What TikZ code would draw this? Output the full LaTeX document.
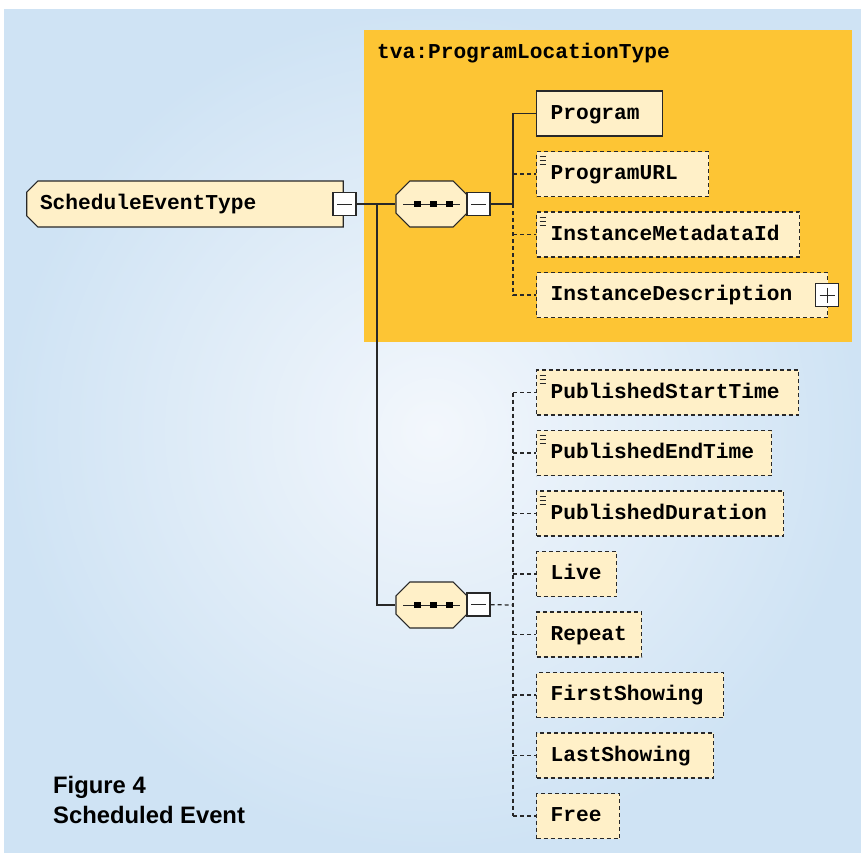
\documentclass[tikz,border=0pt]{standalone}
\usepackage{fontspec}
\setsansfont{Liberation Sans}
\setmonofont{Liberation Mono}
\usetikzlibrary{shapes.misc}

\definecolor{bgblue}{RGB}{207,227,244}
\definecolor{bglight}{RGB}{243,247,252}
\definecolor{groupfill}{RGB}{253,197,52}
\definecolor{elemfill}{RGB}{255,240,200}
\definecolor{linegray}{RGB}{40,40,40}

\tikzset{
	 elemfont/.style = {font = \ttfamily\bfseries\fontsize{21.2}{25}\selectfont,
	 text height = 14pt, text depth = 2.4pt},
	 elem/.style = {draw = linegray, fill = elemfill, line width = 1.2pt, anchor = west,
	 minimum height = 45pt, inner xsep = 14pt, inner ysep = 0pt,
	 text width = #1, align = left, elemfont},
	 optional/.style = {dash pattern = on 4pt off 3pt},
	 doc/.style = {path picture = {
	 \foreach \yy in {5, 9, 13}
	 \draw[line width = 0.8pt, solid] ([shift = {(3pt, -\yy pt)}] path picture bounding box.north west) -- ++(6pt, 0pt);
	 }},
	 toggle/.style = {draw = linegray, fill = white, line width = 1.2pt, solid,
	 minimum size = 23pt, inner sep = 0pt},
	 minus/.style = {toggle, path picture = {
	 \draw[line width = 1pt] ([xshift = 4pt] path picture bounding box.west) -- ([xshift = -4pt] path picture bounding box.east);
	 }},
	 plus/.style = {toggle, path picture = {
	 \draw[line width = 1pt] ([xshift = 4pt] path picture bounding box.west) -- ([xshift = -4pt] path picture bounding box.east);
	 \draw[line width = 1pt] ([yshift = -4pt] path picture bounding box.north) -- ([yshift = 4pt] path picture bounding box.south);
	 }},
	 compositor/.style = {chamfered rectangle, chamfered rectangle xsep = 11pt,
	 draw = linegray, fill = elemfill, line width = 1.2pt,
	 minimum width = 71pt, minimum height = 46pt, inner xsep = 14pt, inner ysep = 12pt,
	 path picture = {
	 \draw[line width = 1pt] ([xshift = 7pt] path picture bounding box.west) -- ([xshift = -7pt] path picture bounding box.east);
	 \foreach \dx in {-14, 2, 18}
	 \fill[black] ([xshift = \dx pt] path picture bounding box.center) +(-3.2pt, -3.2pt) rectangle +(3.2pt, 3.2pt);
	 }},
	 root/.style = {chamfered rectangle, chamfered rectangle corners = {north west, south west},
	 chamfered rectangle xsep = 10pt, draw = linegray, fill = elemfill, line width = 1.2pt,
	 minimum height = 46pt, inner xsep = 5pt, inner ysep = 0pt,
	 text width = 290pt, align = left, elemfont},
	 conn/.style = {draw = linegray, line width = 1.2pt},
	 caption/.style = {anchor = base west, inner sep = 0pt,
	 font = \sffamily\bfseries\fontsize{23.8}{28}\selectfont}
}

\begin{document}
\begin{tikzpicture}[x = 1pt, y = -1pt]
	 \useasboundingbox (0, 0) rectangle (861, 852);
	 \fill[white] (0, 0) rectangle (861, 852);
	 \shade[inner color = bglight, outer color = bgblue] (4, 9) rectangle (861, 852);
	 
	 % ProgramLocationType group
	 \fill[groupfill] (364, 30) rectangle (852, 342);
	 \node[anchor = west, inner sep = 0pt, elemfont] (grouplabel) at (377, 53) {tva:ProgramLocationType};
	 
	 \node[root] (schedule) at (185, 204) {ScheduleEventType};
	 \node[minus] (schedulem) at (344.5, 204) {};
	 
	 \node[compositor] (seqA) at (431.5, 204) {};
	 \node[minus] (seqAm) at (478.5, 204) {};
	 \node[compositor] (seqB) at (431.5, 605) {};
	 \node[minus] (seqBm) at (478.5, 604.5) {};
	 
	 \node[elem = 98pt] (program) at (536, 113.5) {Program};
	 \node[elem = 144pt, optional, doc] (programurl) at (536, 174) {ProgramURL};
	 \node[elem = 235pt, optional, doc] (metadataid) at (536, 234.5) {InstanceMetadataId};
	 \node[elem = 263pt, optional] (description) at (536, 295) {InstanceDescription};
	 \node[plus] (descriptionp) at (827, 295) {};
	 
	 \node[elem = 234pt, optional, doc] (starttime) at (536, 392.5) {PublishedStartTime};
	 \node[elem = 207pt, optional, doc] (endtime) at (536, 453) {PublishedEndTime};
	 \node[elem = 219pt, optional, doc] (duration) at (536, 513.5) {PublishedDuration};
	 \node[elem = 52pt, optional] (live) at (536, 574) {Live};
	 \node[elem = 77pt, optional] (repeat) at (536, 634.5) {Repeat};
	 \node[elem = 159pt, optional] (firstshowing) at (536, 695) {FirstShowing};
	 \node[elem = 149pt, optional] (lastshowing) at (536, 755.5) {LastShowing};
	 \node[elem = 55pt, optional] (free) at (536, 816) {Free};
	 
	 % connectors
	 \coordinate (trunk) at (377, 204);
	 \coordinate (busA) at (513, 204);
	 \coordinate (busB) at (513, 605);
	 \draw[conn] (schedulem) -- (seqA);
	 \draw[conn] (trunk) |- (seqB);
	 \draw[conn] (seqAm) -- (busA) |- (program);
	 \draw[conn, optional] (busA) |- (description);
	 \draw[conn, optional] (busA |- programurl) -- (programurl);
	 \draw[conn, optional] (busA |- metadataid) -- (metadataid);
	 
	 \draw[conn, optional] (seqBm) -- (busB);
	 \draw[conn, optional] (busB |- starttime) -- (busB |- free);
	 \foreach \n in {starttime, endtime, duration, live, repeat, firstshowing, lastshowing, free}
	 \draw[conn, optional] (busB |- \n) -- (\n);
	 
	 \node[caption] (fignum) at (53, 793) {Figure 4};
	 \node[caption] (figname) at (53, 823) {Scheduled Event};
\end{tikzpicture}
\end{document}
